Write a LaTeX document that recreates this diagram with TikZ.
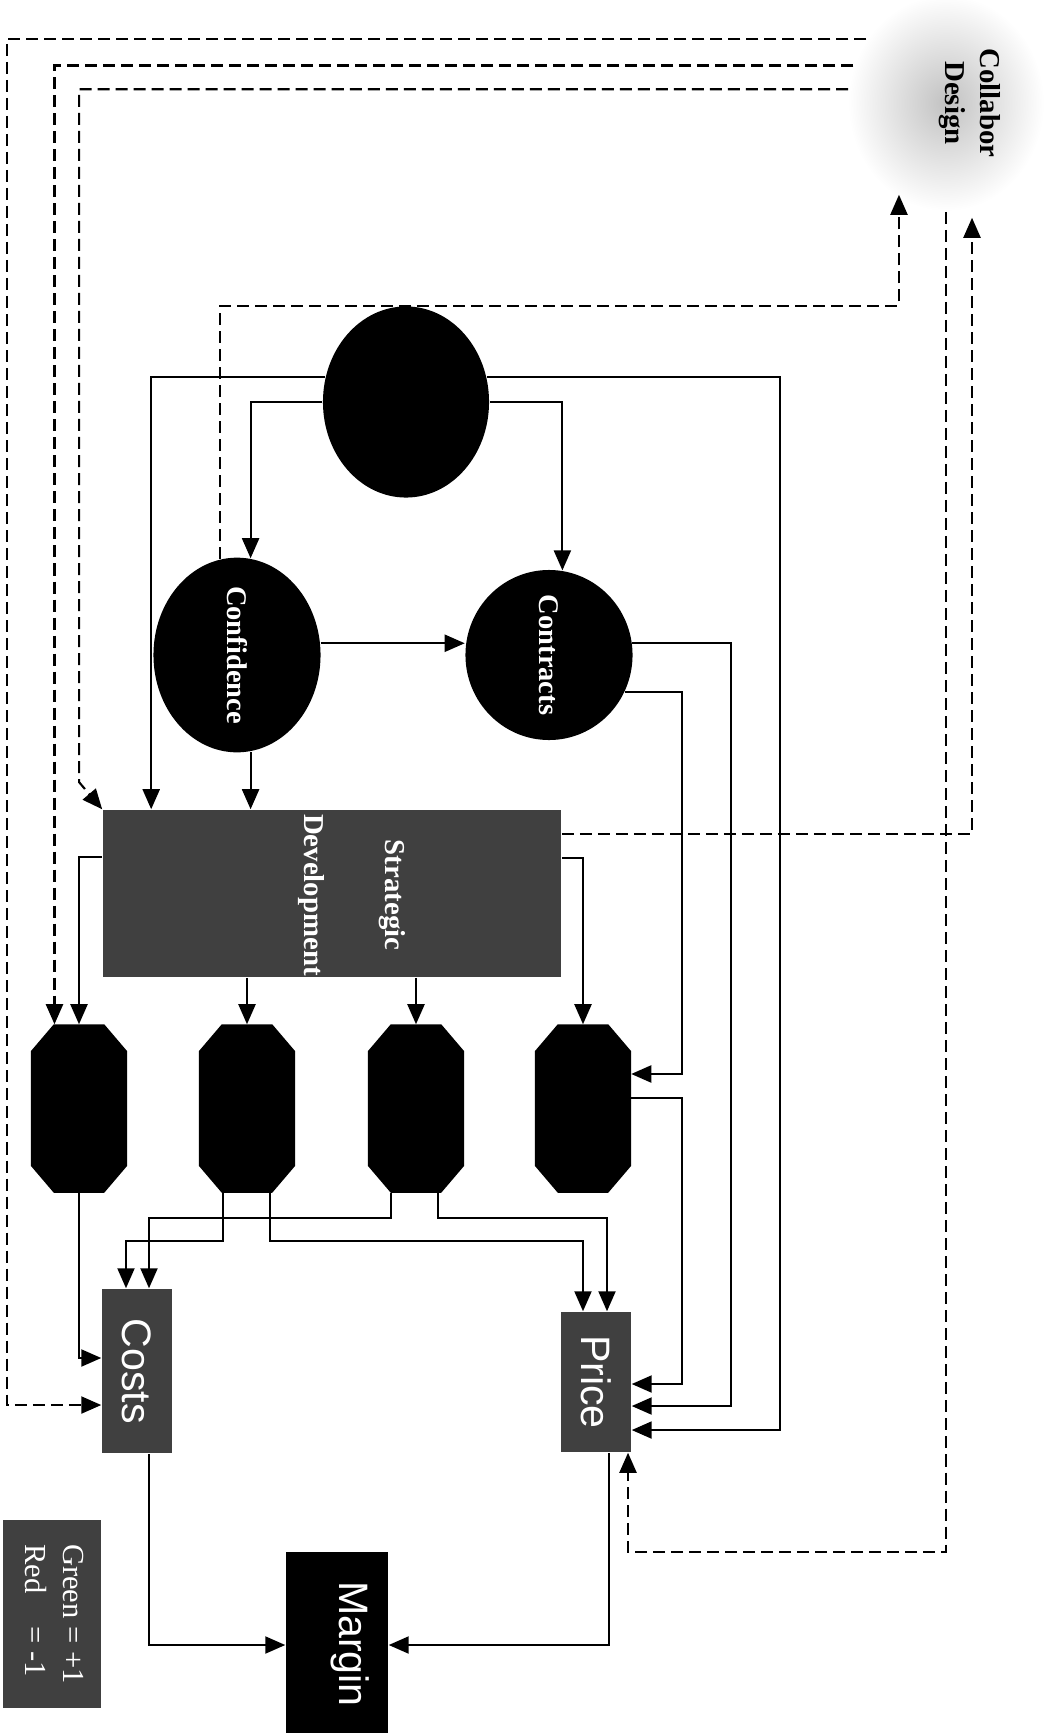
\documentclass[tikz,border=0pt]{standalone}
\usepackage{fontspec}
\setmainfont{Liberation Serif}
\newfontfamily\headsans{Liberation Sans}
\usetikzlibrary{arrows.meta,shapes.geometric}
\definecolor{boxgrey}{gray}{0.25}
\definecolor{cloudgrey}{gray}{0.76}
\newcommand{\vtext}[1]{\rotatebox{-90}{#1}}
\tikzset{
  link/.style={line width=0.6pt},
  arrow/.style={link,-{Triangle[length=2mm,width=1.7mm]}},
  dasharrow/.style={arrow,dash pattern=on 1.2mm off 0.6mm},
  blob/.style={ellipse,fill=black,inner sep=0,text=white,font=\bfseries\fontsize{8.1}{10}\selectfont},
  % the octagons: an empty frame, the cut corners are filled in afterwards
  octo/.style={rectangle,inner sep=0,minimum width=9.5mm,minimum height=16.7mm},
  gbox/.style={rectangle,fill=boxgrey,inner sep=0,text=white},
  sanslab/.style={text=white,font=\headsans\fontsize{11.7}{14}\selectfont},
  seriflab/.style={font=\bfseries\fontsize{8.2}{10}\selectfont},
}
\begin{document}
\begin{tikzpicture}[x=0.01cm,y=-0.01cm]
  \useasboundingbox (0,0) rectangle (1049,1733);
  % the collaborative design cloud
  \node[ellipse,minimum width=19.6mm,minimum height=21.6mm,inner color=cloudgrey,outer color=white] (cloud) at (946,103) {};
  \node[seriflab,rotate=-90,align=center] (cloudtxt) at (970,103) {Collabor\\Design};
  % drivers
  \node[blob,minimum width=16.6mm,minimum height=19.1mm] (hub) at (406,402) {};
  \node[blob,minimum width=16.7mm,minimum height=16.4mm] (conf) at (237,655) {\vtext{Confidence}};
  \node[blob,minimum width=16.7mm,minimum height=16.4mm] (contr) at (549,655) {\vtext{Contracts}};
  \node[gbox,minimum width=45.8mm,minimum height=16.7mm] (strat) at (332,893.5) {};
  \node[seriflab,text=white,rotate=-90,align=center] (strattxt) at (352,895) {Strategic\\[12.8pt]Development};
  \foreach \i/\x in {1/79,2/247,3/416,4/583} {
    \node[octo] (oct\i) at (\x,1108.5) {};
    \fill ([xshift=2.3mm]oct\i.north west) -- ([xshift=-2.3mm]oct\i.north east) -- ([yshift=-2.7mm]oct\i.north east)
      -- ([yshift=2.7mm]oct\i.south east) -- ([xshift=-2.3mm]oct\i.south east) -- ([xshift=2.3mm]oct\i.south west)
      -- ([yshift=2.7mm]oct\i.south west) -- ([yshift=-2.7mm]oct\i.north west) -- cycle;
  }
  % outcomes
  \node[gbox,sanslab,minimum width=7mm,minimum height=16.4mm] (costs) at (137,1371) {\vtext{Costs}};
  \node[gbox,sanslab,minimum width=7mm,minimum height=14mm] (price) at (596,1382) {\vtext{Price}};
  \node[rectangle,fill=black,minimum width=10.2mm,minimum height=18.6mm] (margin) at (337,1645) {};
  \node[sanslab,rotate=-90] (margintxt) at (350,1644) {Margin};
  \node[gbox,minimum width=9.7mm,minimum height=18.8mm,font=\fontsize{8.7}{10.8}\selectfont] (legend) at (52,1614)
    {\vtext{\begin{tabular}{@{}l@{ }l@{ }l@{}}Green&=&+1\\Red&=&-1\end{tabular}}};
  % solid links
  \draw[arrow] (hub.west) -| (conf.82);
  \draw[arrow] (hub.east) -| (contr.81);
  \draw[arrow] (hub.163) -| ([xshift=4.9mm]strat.north west);
  \draw[arrow] (hub.17) -| ([xshift=14.8mm,yshift=-4.8mm]price.east) -- ([yshift=-4.8mm]price.east);
  \draw[arrow] (conf.8) -- (conf.8 -| contr.west);
  \draw[arrow] (conf.-82) -- (conf.-82 |- strat.north);
  \draw[arrow] (contr.8) -| ([xshift=9.9mm,yshift=-2.4mm]price.east) -- ([yshift=-2.4mm]price.east);
  \draw[arrow] (contr.-26) -| ([xshift=5.1mm,yshift=3.45mm]oct4.east) -- ([yshift=3.45mm]oct4.east);
  \draw[arrow] ([yshift=1.05mm]oct4.east) -| ([xshift=5mm,yshift=-0.2mm]price.east) -- ([yshift=-0.2mm]price.east);
  \draw[arrow] ([yshift=3.65mm]strat.west) -| (oct1.north);
  \foreach \i in {2,3} { \draw[arrow] (oct\i.north |- strat.south) -- (oct\i.north); }
  \draw[arrow] ([yshift=3.55mm]strat.east) -| (oct4.north);
  \draw[arrow] (oct1.south) |- ([yshift=1.3mm]costs.west);
  \draw[arrow] ([xshift=-2.4mm]oct2.south) -- ++(0,48) -| ([xshift=-1.1mm]costs.north);
  \draw[arrow] ([xshift=2.3mm]oct2.south) -- ++(0,48) -| ([xshift=-1.3mm]price.north);
  \draw[arrow] ([xshift=-2.5mm]oct3.south) -- ++(0,25) -| ([xshift=1.2mm]costs.north);
  \draw[arrow] ([xshift=2.2mm]oct3.south) -- ++(0,25) -| ([xshift=1.1mm]price.north);
  \draw[arrow] ([xshift=1.2mm]costs.south) |- (margin.west);
  \draw[arrow] ([xshift=1.3mm]price.south) |- (margin.east);
  % dashed links to and from the cloud
  \draw[dasharrow] (cloud.141) -| ([xshift=-9.4mm,yshift=-3.4mm]costs.west) -- ([yshift=-3.4mm]costs.west);
  \draw[dasharrow] (cloud.158) -| ([xshift=-2.45mm]oct1.north);
  \draw[dasharrow] (cloud.172) -| ([xshift=-2.3mm,yshift=2.7mm]strat.north west) -- (strat.north west);
  \draw[dasharrow] (conf.100) -- (conf.100 |- hub.north) -| ([xshift=-4.7mm,yshift=1.7mm]cloud.south);
  \draw[dasharrow] ([yshift=5.95mm]strat.east) -| ([xshift=2.6mm,yshift=-0.6mm]cloud.south);
  \draw[dasharrow] (cloud.south) -- ++(0,1340) -| ([xshift=3.2mm]price.south);
\end{tikzpicture}
\end{document}
